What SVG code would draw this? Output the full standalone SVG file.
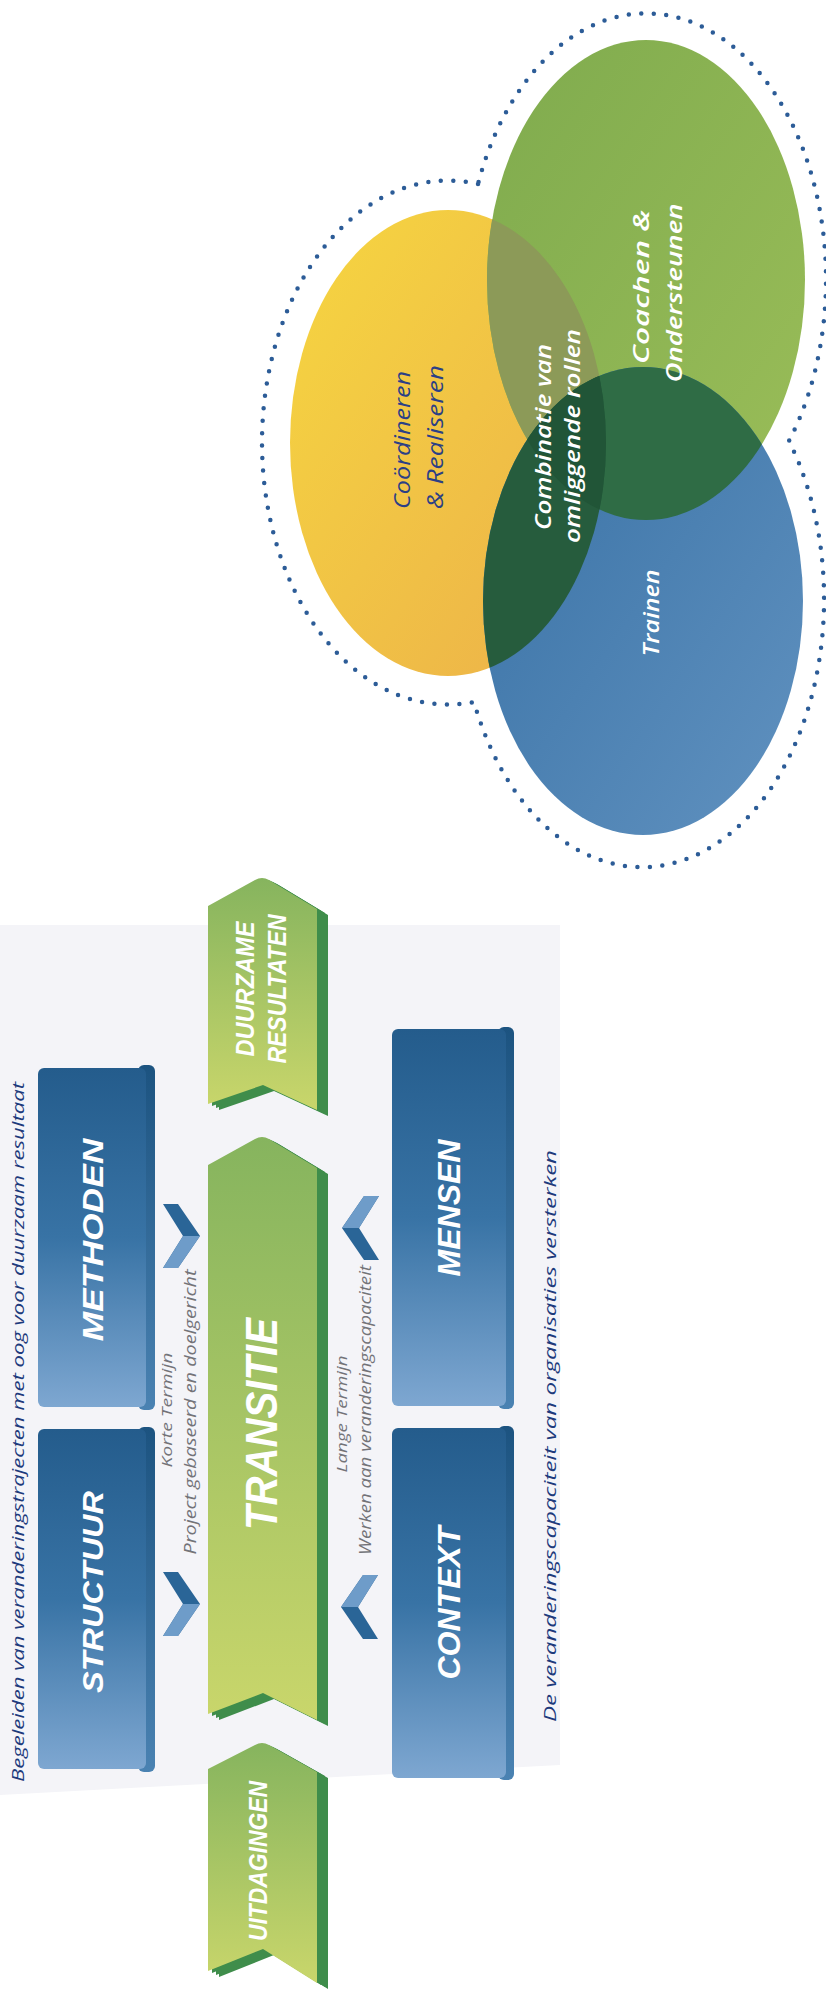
<svg xmlns="http://www.w3.org/2000/svg" width="826" height="1997" viewBox="0 0 826 1997">
<defs>
  <style>
    .lbl{font-family:"Liberation Sans",Arial,sans-serif;font-weight:bold;font-style:italic;fill:#ffffff;text-anchor:middle;}
    .sub{font-family:"Open Sans","Liberation Sans",sans-serif;font-style:italic;fill:#737378;text-anchor:middle;}
    .cap{font-family:"Open Sans","Liberation Sans",sans-serif;font-style:italic;fill:#1d3a7c;font-size:17px;}
    .venn{font-family:"Open Sans","Liberation Sans",sans-serif;font-style:italic;font-size:22px;text-anchor:middle;}
    .w{fill:#ffffff;font-weight:600;}
    .n{fill:#2b3f86;}
    .dots{fill:none;stroke:#2c5c97;stroke-width:4.5;stroke-linecap:round;stroke-dasharray:0 12.5;}
  </style>
  <linearGradient id="gBlue" x1="0" y1="0" x2="0" y2="1">
    <stop offset="0" stop-color="#245c8c"/>
    <stop offset="0.5" stop-color="#3873a5"/>
    <stop offset="1" stop-color="#7ea7d1"/>
  </linearGradient>
  <linearGradient id="gBlueSide" x1="0" y1="0" x2="0" y2="1">
    <stop offset="0" stop-color="#1c5380"/>
    <stop offset="1" stop-color="#4a82b2"/>
  </linearGradient>
  <linearGradient id="gGreen" x1="0" y1="0" x2="0" y2="1">
    <stop offset="0" stop-color="#86b45e"/>
    <stop offset="1" stop-color="#c9d66b"/>
  </linearGradient>
  <linearGradient id="gYel" x1="0" y1="0" x2="1" y2="1">
    <stop offset="0" stop-color="#f6d640"/>
    <stop offset="1" stop-color="#ecb04a"/>
  </linearGradient>
  <linearGradient id="gGrn" x1="0" y1="0" x2="1" y2="1">
    <stop offset="0" stop-color="#7fab4e"/>
    <stop offset="1" stop-color="#9abd58"/>
  </linearGradient>
  <linearGradient id="gBlu" x1="0" y1="0" x2="1" y2="1">
    <stop offset="0" stop-color="#3770a4"/>
    <stop offset="1" stop-color="#6192c0"/>
  </linearGradient>
  <clipPath id="cY"><ellipse cx="448" cy="443" rx="158" ry="233"/></clipPath>
  <clipPath id="cG"><ellipse cx="646" cy="280" rx="159" ry="240"/></clipPath>
  <g id="chev">
    <polygon points="-18,-32 -3,-32 19,0 -3,32 -18,32 2,0" fill="#2a6597"/>
    <polygon points="-18,32 2,0 19,0 -3,32" fill="#6e9cc9"/>
  </g>
  <path id="shT" d="M208,1165 L255,1139 Q262,1135 269,1139 L317,1168 L317,1720 L263,1693 L208,1714 Z"/>
  <path id="shD" d="M208,906 L255,880 Q262,876 269,880 L317,909 L317,1110 L263,1085 L208,1104 Z"/>
  <path id="shU" d="M208,1769 L255,1745 Q262,1741 269,1745 L317,1772 L317,1983 L263,1949 L208,1971 Z"/>
</defs>

<rect width="826" height="1997" fill="#ffffff"/>
<polygon id="floor" points="0,925 560,925 560,1765 0,1795" fill="#f4f4f8"/>

<!-- Venn diagram -->
<g id="venn-outline">
  <path class="dots" d="M478,184 A186,262 0 1 0 474,702 A182,268 0 1 0 789,441 A180,266 0 1 0 478,184 Z"/>
</g>
<g id="venn-coordineren">
  <ellipse cx="448" cy="443" rx="158" ry="233" fill="url(#gYel)"/>
</g>
<g id="venn-coachen">
  <ellipse cx="646" cy="280" rx="159" ry="240" fill="url(#gGrn)"/>
</g>
<g id="venn-trainen">
  <ellipse cx="643" cy="601" rx="160" ry="234" fill="url(#gBlu)"/>
</g>
<g id="venn-overlaps">
  <ellipse cx="646" cy="280" rx="159" ry="240" fill="#8c9a58" clip-path="url(#cY)"/>
  <ellipse cx="643" cy="601" rx="160" ry="234" fill="#2f6c45" clip-path="url(#cG)"/>
  <ellipse cx="643" cy="601" rx="160" ry="234" fill="#265c3d" clip-path="url(#cY)"/>
  <g clip-path="url(#cY)"><ellipse cx="643" cy="601" rx="160" ry="234" fill="#215537" clip-path="url(#cG)"/></g>
</g>
<g id="venn-labels">
  <text class="venn n" transform="translate(410,440) rotate(-90)" textLength="138" lengthAdjust="spacingAndGlyphs">Coördineren</text>
  <text class="venn n" transform="translate(443,437) rotate(-90)" textLength="144" lengthAdjust="spacingAndGlyphs">&amp; Realiseren</text>
  <text class="venn w" transform="translate(551,437) rotate(-90)" textLength="186" lengthAdjust="spacingAndGlyphs">Combinatie van</text>
  <text class="venn w" transform="translate(580,436) rotate(-90)" textLength="214" lengthAdjust="spacingAndGlyphs">omliggende rollen</text>
  <text class="venn w" transform="translate(649,287) rotate(-90)" textLength="154" lengthAdjust="spacingAndGlyphs">Coachen  &amp;</text>
  <text class="venn w" transform="translate(682,293) rotate(-90)" textLength="179" lengthAdjust="spacingAndGlyphs">Ondersteunen</text>
  <text class="venn w" transform="translate(659,613) rotate(-90)" textLength="87" lengthAdjust="spacingAndGlyphs">Trainen</text>
</g>

<!-- Left diagram captions -->
<g id="caption-top">
  <text class="cap" transform="translate(24,1782) rotate(-90)" textLength="700" lengthAdjust="spacingAndGlyphs">Begeleiden van veranderingstrajecten met oog voor duurzaam resultaat</text>
</g>
<g id="caption-bottom">
  <text class="cap" transform="translate(556,1722) rotate(-90)" textLength="572" lengthAdjust="spacingAndGlyphs">De veranderingscapaciteit van organisaties versterken</text>
</g>

<!-- Blue boxes -->
<g id="methoden">
  <rect x="138" y="1065" width="17" height="345" rx="6" fill="url(#gBlueSide)"/>
  <rect x="38" y="1068" width="108" height="339" rx="6" fill="url(#gBlue)"/>
  <text class="lbl" font-size="30" x="0" y="10.8" transform="translate(92,1240) rotate(-90)" textLength="203" lengthAdjust="spacingAndGlyphs">METHODEN</text>
</g>
<g id="structuur">
  <rect x="138" y="1427" width="17" height="345" rx="6" fill="url(#gBlueSide)"/>
  <rect x="38" y="1429" width="108" height="340" rx="6" fill="url(#gBlue)"/>
  <text class="lbl" font-size="30" x="0" y="10.8" transform="translate(92,1592) rotate(-90)" textLength="202" lengthAdjust="spacingAndGlyphs">STRUCTUUR</text>
</g>
<g id="mensen">
  <rect x="498" y="1027" width="16" height="382" rx="6" fill="url(#gBlueSide)"/>
  <rect x="392" y="1029" width="114" height="377" rx="6" fill="url(#gBlue)"/>
  <text class="lbl" font-size="31" x="0" y="11.2" transform="translate(449,1208) rotate(-90)" textLength="137" lengthAdjust="spacingAndGlyphs">MENSEN</text>
</g>
<g id="context">
  <rect x="498" y="1426" width="16" height="354" rx="6" fill="url(#gBlueSide)"/>
  <rect x="392" y="1428" width="114" height="350" rx="6" fill="url(#gBlue)"/>
  <text class="lbl" font-size="31" x="0" y="11.2" transform="translate(449,1603) rotate(-90)" textLength="153" lengthAdjust="spacingAndGlyphs">CONTEXT</text>
</g>

<!-- Green chevrons -->
<g id="duurzame-resultaten">
  <use href="#shD" transform="translate(4,2)" fill="#3f8d4b"/>
  <use href="#shD" transform="translate(8,4)" fill="#3f8d4b"/>
  <use href="#shD" transform="translate(11,6)" fill="#3f8d4b"/>
  <use href="#shD" fill="url(#gGreen)"/>
  <text class="lbl" font-size="26" x="0" y="9.4" transform="translate(245,989) rotate(-90)" textLength="135" lengthAdjust="spacingAndGlyphs">DUURZAME</text>
  <text class="lbl" font-size="26" x="0" y="9.4" transform="translate(277,989) rotate(-90)" textLength="149" lengthAdjust="spacingAndGlyphs">RESULTATEN</text>
</g>
<g id="transitie">
  <use href="#shT" transform="translate(4,2)" fill="#3f8d4b"/>
  <use href="#shT" transform="translate(8,4)" fill="#3f8d4b"/>
  <use href="#shT" transform="translate(11,6)" fill="#3f8d4b"/>
  <use href="#shT" fill="url(#gGreen)"/>
  <text class="lbl" font-size="44" x="0" y="15.8" transform="translate(261,1424) rotate(-90)" textLength="212" lengthAdjust="spacingAndGlyphs">TRANSITIE</text>
</g>
<g id="uitdagingen">
  <use href="#shU" transform="translate(4,2)" fill="#3f8d4b"/>
  <use href="#shU" transform="translate(8,4)" fill="#3f8d4b"/>
  <use href="#shU" transform="translate(11,6)" fill="#3f8d4b"/>
  <use href="#shU" fill="url(#gGreen)"/>
  <text class="lbl" font-size="26" x="0" y="9.4" transform="translate(258,1861) rotate(-90)" textLength="160" lengthAdjust="spacingAndGlyphs">UITDAGINGEN</text>
</g>

<!-- Connectors: chevron arrows and their labels -->
<g id="connectors">
  <use href="#chev" transform="translate(181,1236)"/>
  <use href="#chev" transform="translate(181,1604)"/>
  <use href="#chev" transform="translate(361,1228) rotate(180)"/>
  <use href="#chev" transform="translate(360,1607) rotate(180)"/>
  <text class="sub" font-size="14" transform="translate(172,1410) rotate(-90)" textLength="115" lengthAdjust="spacingAndGlyphs">Korte Termijn</text>
  <text class="sub" font-size="16" transform="translate(196,1412) rotate(-90)" textLength="285" lengthAdjust="spacingAndGlyphs">Project gebaseerd en doelgericht</text>
  <text class="sub" font-size="14" transform="translate(347,1414) rotate(-90)" textLength="117" lengthAdjust="spacingAndGlyphs">Lange Termijn</text>
  <text class="sub" font-size="16" transform="translate(371,1410) rotate(-90)" textLength="290" lengthAdjust="spacingAndGlyphs">Werken aan veranderingscapaciteit</text>
</g>
</svg>
